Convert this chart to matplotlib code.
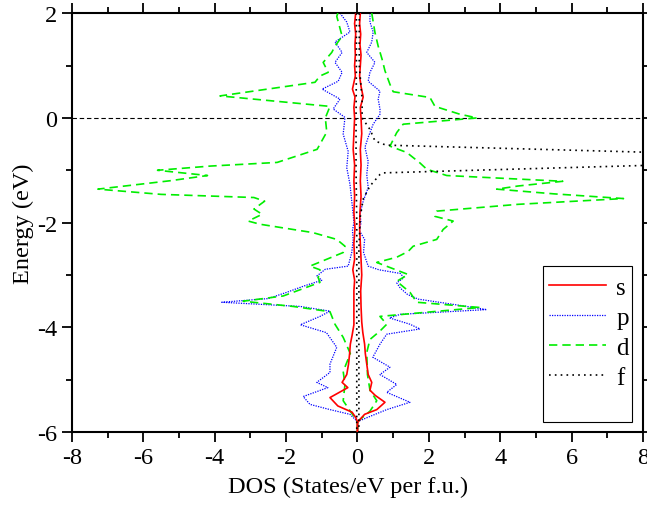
import matplotlib
matplotlib.use("Agg")
import matplotlib.pyplot as plt
from matplotlib.ticker import MultipleLocator
from matplotlib.patches import Rectangle

plt.rcParams['font.family'] = ['Liberation Serif', 'DejaVu Serif']
plt.rcParams['mathtext.fontset'] = 'stix'
plt.rcParams['axes.unicode_minus'] = False

# ---- data (energy in eV, DOS in states/eV per f.u.; spin-down negative) ----
s_up_E = [2.0, 1.8, 1.6, 1.4, 1.2, 1.0, 0.8, 0.6, 0.4, 0.2, 0.0, -0.3, -0.6, -0.9, -1.2, -1.5, -1.8,
          -2.1, -2.4, -2.7, -3.0, -3.3, -3.6, -3.9, -4.1, -4.32, -4.5, -4.7, -4.9, -5.05, -5.2, -5.3,
          -5.43, -5.57, -5.66, -5.75, -5.82, -6.0]
s_up = [0.08, 0.06, 0.09, 0.07, 0.1, 0.08, 0.06, 0.1, 0.16, 0.08, 0.1, 0.12, 0.08, 0.1, 0.08, 0.1, 0.07,
        0.06, 0.08, 0.1, 0.12, 0.09, 0.1, 0.12, 0.15, 0.2, 0.22, 0.26, 0.3, 0.4, 0.35, 0.5,
        0.77, 0.54, 0.2, 0.08, 0.0, 0.0]

s_dn_E = [2.0, 1.8, 1.6, 1.4, 1.2, 1.0, 0.8, 0.55, 0.4, 0.2, 0.0, -0.3, -0.6, -0.9, -1.2, -1.5, -1.8,
          -2.1, -2.4, -2.7, -2.9, -3.1, -3.3, -3.6, -3.95, -4.15, -4.32, -4.5, -4.7, -4.9, -5.05, -5.15,
          -5.34, -5.5, -5.62, -5.72, -5.8, -6.0]
s_dn = [-0.05, -0.08, -0.05, -0.07, -0.06, -0.08, -0.06, -0.14, -0.07, -0.1, -0.08, -0.1, -0.12, -0.08, -0.1, -0.08, -0.1,
        -0.07, -0.1, -0.08, -0.13, -0.08, -0.1, -0.1, -0.1, -0.15, -0.2, -0.22, -0.25, -0.3, -0.43, -0.27,
        -0.77, -0.55, -0.15, -0.05, 0.0, 0.0]

p_up_E = [2.0, 1.83, 1.64, 1.45, 1.25, 1.06, 0.87, 0.7, 0.51, 0.36, 0.17, 0.07, -0.12, -0.37, -0.56, -0.83,
          -1.08, -1.33, -1.59, -1.84, -2.0, -2.15, -2.32, -2.57, -2.83, -2.9, -2.97, -3.05, -3.15, -3.25,
          -3.37, -3.46, -3.56, -3.66, -3.75, -3.82, -3.94, -4.03, -4.13, -4.32, -4.57, -4.76, -4.9, -5.09,
          -5.24, -5.43, -5.57, -5.7, -5.8, -6.0]
p_up = [0.35, 0.35, 0.44, 0.4, 0.26, 0.49, 0.35, 0.3, 0.63, 0.58, 0.63, 0.63, 0.44, 0.3, 0.21, 0.3,
        0.26, 0.3, 0.16, 0.07, 0.1, 0.05, 0.2, 0.17, 0.3, 0.6, 1.2, 1.3, 1.1, 1.2,
        1.4, 1.7, 2.68, 3.62, 1.2, 0.9, 1.47, 1.75, 0.82, 0.63, 0.43, 0.91, 0.63, 1.1,
        0.82, 1.47, 0.82, 0.35, 0.0, 0.0]

p_dn_E = [2.0, 1.83, 1.64, 1.45, 1.25, 1.06, 0.87, 0.7, 0.55, 0.36, 0.17, 0.01, -0.31, -0.64, -0.95,
          -1.27, -1.59, -1.84, -2.0, -2.15, -2.32, -2.57, -2.83, -2.89, -3.02, -3.1, -3.21, -3.33, -3.45,
          -3.52, -3.6, -3.69, -3.79, -3.95, -4.1, -4.38, -4.7, -4.86, -5.05, -5.15, -5.32, -5.47, -5.57,
          -5.66, -5.8, -6.0]
p_dn = [-0.49, -0.3, -0.21, -0.63, -0.43, -0.63, -0.43, -0.54, -0.99, -0.49, -0.68, -0.35, -0.4, -0.26, -0.3,
        -0.21, -0.16, -0.12, -0.1, -0.14, -0.12, -0.16, -0.26, -0.9, -1.14, -1.0, -1.5, -1.98, -2.5,
        -3.8, -1.6, -0.77, -1.05, -1.6, -0.87, -0.58, -0.77, -0.77, -1.14, -0.83, -1.52, -1.33, -0.77,
        -0.21, 0.0, 0.0]

d_up_E = [2.0, 1.63, 1.37, 1.12, 0.9, 0.64, 0.5, 0.39, 0.22, 0.07, 0.0, -0.12, -0.28, -0.54, -0.66, -0.86,
          -0.98, -1.1, -1.21, -1.3, -1.36, -1.45, -1.54, -1.65, -1.78, -1.88, -1.97, -2.13, -2.32, -2.45,
          -2.55, -2.66, -2.76, -2.99, -3.12, -3.33, -3.52, -3.62, -3.79, -3.94, -4.07, -4.23, -4.48, -4.9,
          -5.2, -5.4, -5.6, -5.8, -6.0]
d_up = [0.4, 0.49, 0.58, 0.69, 0.77, 0.91, 1.0, 2.03, 2.17, 2.87, 3.35, 1.28, 1.1, 0.91, 1.38, 1.75,
        1.94, 2.5, 5.75, 4.5, 3.9, 5.5, 7.45, 4.5, 2.22, 2.17, 2.68, 2.4, 2.22, 1.56,
        1.42, 1.1, 0.54, 1.42, 1.1, 1.47, 1.66, 3.43, 0.63, 0.82, 0.63, 0.35, 0.26, 0.28,
        0.35, 0.54, 0.35, 0.0, 0.0]

d_dn_E = [2.0, 1.94, 1.56, 1.37, 1.25, 1.06, 0.87, 0.8, 0.68, 0.42, 0.22, 0.0, -0.27, -0.6, -0.85, -0.92,
          -1.0, -1.1, -1.2, -1.36, -1.46, -1.52, -1.59, -1.74, -1.84, -1.97, -2.03, -2.19, -2.32, -2.45,
          -2.57, -2.83, -2.9, -3.05, -3.14, -3.4, -3.5, -3.6, -3.7, -3.94, -4.19, -4.5, -4.84, -5.09,
          -5.4, -5.6, -5.8, -6.0]
d_dn = [-0.55, -0.58, -0.43, -0.63, -0.72, -0.96, -0.82, -1.05, -1.19, -3.85, -0.77, -0.9, -0.86, -1.13, -2.25, -4.13,
        -5.6, -4.2, -5.25, -7.27, -5.5, -2.9, -2.6, -2.9, -2.67, -3.06, -2.73, -1.25, -0.58, -0.35,
        -0.4, -1.33, -1.05, -1.1, -1.05, -2.08, -3.2, -1.8, -0.77, -0.63, -0.4, -0.2, -0.4, -0.35,
        -0.4, -0.2, 0.0, 0.0]

f_up_E = [2.0, 1.0, 0.36, 0.0, -0.22, -0.44, -0.52, -0.7, -0.78, -0.85, -1.05, -1.08, -1.3, -1.55, -1.88,
          -2.5, -6.0]
f_up = [0.05, 0.05, 0.13, 0.13, 0.35, 0.49, 0.8, 10.5, 25.0, 11.0, 0.7, 0.63, 0.35, 0.16, 0.08,
        0.04, 0.04]

f_dn_E = [2.0, 1.0, 0.0, -1.0, -2.0, -6.0]
f_dn = [-0.03, -0.03, -0.04, -0.04, -0.02, -0.02]

labels = ['s', 'p', 'd', 'f']

# ---- figure ----
fig = plt.figure(figsize=(6.47, 5.06), dpi=100)
ax = fig.add_axes([0.111, 0.144, 0.883, 0.828])

ax.axhline(0, color='black', lw=0.8, ls=(0, (4, 2.5)), zorder=1)

kw_p = dict(color='#0000ff', lw=0.9, ls=(0, (1, 1)))
kw_d = dict(color='#00ee00', lw=1.2, ls=(0, (5, 3)))
kw_s = dict(color='#ff0000', lw=1.2, ls='-')
kw_f = dict(color='black', lw=1.2, ls=(0, (1, 2.5)))

lp, = ax.plot(p_up, p_up_E, zorder=2, **kw_p)
ax.plot(p_dn, p_dn_E, zorder=2, **kw_p)
ld, = ax.plot(d_up, d_up_E, zorder=3, **kw_d)
ax.plot(d_dn, d_dn_E, zorder=3, **kw_d)
ls_, = ax.plot(s_up, s_up_E, zorder=4, **kw_s)
ax.plot(s_dn, s_dn_E, zorder=4, **kw_s)
lf, = ax.plot(f_up, f_up_E, zorder=5, **kw_f)
ax.plot(f_dn, f_dn_E, zorder=5, **kw_f)

ax.set_xlim(-8, 8)
ax.set_ylim(-6, 2)
ax.xaxis.set_major_locator(MultipleLocator(2))
ax.xaxis.set_minor_locator(MultipleLocator(1))
ax.yaxis.set_major_locator(MultipleLocator(2))
ax.yaxis.set_minor_locator(MultipleLocator(1))
ax.tick_params(which='both', direction='out', top=True, right=True, labelsize=17.5, width=1.3)
ax.tick_params(which='major', length=7)
ax.tick_params(which='minor', length=4)
ax.tick_params(axis='x', pad=4)
for sp in ax.spines.values():
    sp.set_linewidth(1.5)

ax.set_xlabel('DOS (States/eV per f.u.)', fontsize=17.5, labelpad=6)
ax.xaxis.set_label_coords(0.483, -0.105)
ax.set_ylabel('Energy (eV)', fontsize=17.5, labelpad=2)

# legend box (frame drawn separately)
ax.add_patch(Rectangle((0.825, 0.024), 0.156, 0.372, transform=ax.transAxes,
                       facecolor='white', edgecolor='black', lw=0.8, zorder=9))
leg = ax.legend([ls_, lp, ld, lf], labels, loc='upper left', bbox_to_anchor=(0.835, 0.371),
                fontsize=18, frameon=False, borderpad=0, borderaxespad=0,
                handlelength=2.3, handletextpad=0.4, labelspacing=0.3)
leg.set_zorder(10)

fig.savefig('out.png', dpi=100)
